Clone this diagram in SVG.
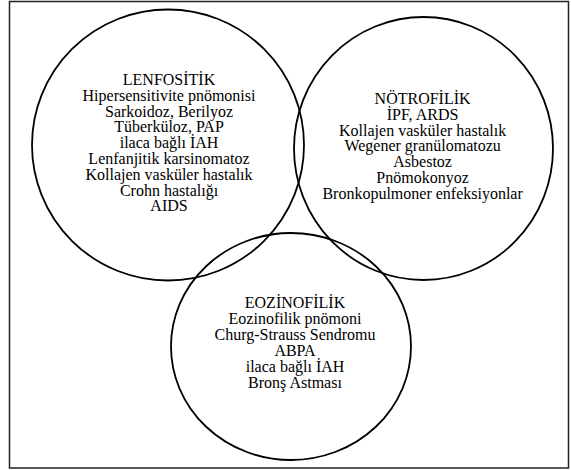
<svg xmlns="http://www.w3.org/2000/svg" width="571" height="470" viewBox="0 0 571 470">
<style>
.c{fill:none;stroke:#000;stroke-width:1.8}
.t{font-family:"Liberation Serif","Times New Roman",serif;font-size:16px;fill:#000;text-anchor:middle}
</style>
<rect x="0" y="0" width="571" height="470" fill="#fff"/>
<rect x="9.5" y="1.5" width="559" height="466.5" fill="none" stroke="#222" stroke-width="1.5"/>
<g id="lenfositik">
<ellipse class="c" cx="168" cy="145" rx="136" ry="135.5"/>
<text class="t" x="169" y="85">LENFOSİTİK</text>
<text class="t" x="169" y="100.8">Hipersensitivite pnömonisi</text>
<text class="t" x="169" y="116.6">Sarkoidoz, Berilyoz</text>
<text class="t" x="169" y="132.4">Tüberküloz, PAP</text>
<text class="t" x="169" y="148.2">ilaca bağlı İAH</text>
<text class="t" x="169" y="164">Lenfanjitik karsinomatoz</text>
<text class="t" x="169" y="179.8">Kollajen vasküler hastalık</text>
<text class="t" x="169" y="195.6">Crohn hastalığı</text>
<text class="t" x="169" y="211.4">AIDS</text>
</g>
<g id="notrofilik">
<ellipse class="c" cx="423.5" cy="148.5" rx="129.5" ry="131.5"/>
<text class="t" x="422.6" y="104.3">NÖTROFİLİK</text>
<text class="t" x="422.6" y="120">İPF, ARDS</text>
<text class="t" x="422.6" y="135.7">Kollajen vasküler hastalık</text>
<text class="t" x="422.6" y="151.4">Wegener granülomatozu</text>
<text class="t" x="422.6" y="167.1">Asbestoz</text>
<text class="t" x="422.6" y="182.8">Pnömokonyoz</text>
<text class="t" x="422.6" y="198.5">Bronkopulmoner enfeksiyonlar</text>
</g>
<g id="eozinofilik">
<ellipse class="c" cx="291" cy="346.5" rx="120" ry="113.5"/>
<text class="t" x="295" y="308.3">EOZİNOFİLİK</text>
<text class="t" x="295" y="324.3">Eozinofilik pnömoni</text>
<text class="t" x="295" y="340.3">Churg-Strauss Sendromu</text>
<text class="t" x="295" y="356.3">ABPA</text>
<text class="t" x="295" y="372.3">ilaca bağlı İAH</text>
<text class="t" x="295" y="388.3">Bronş Astması</text>
</g>
<g id="connectors"></g>
</svg>
